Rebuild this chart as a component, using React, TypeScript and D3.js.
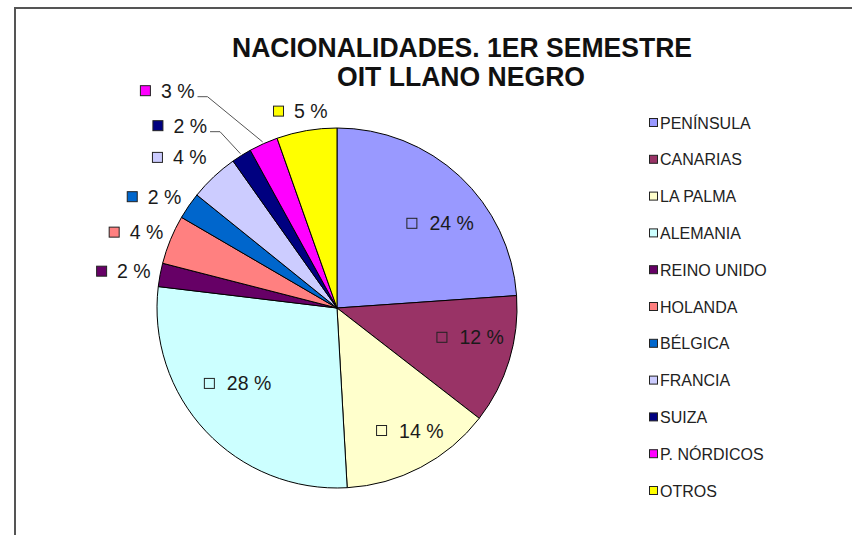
import React, { useMemo } from "react";
import * as d3 from "d3";

const categories = ["PENÍNSULA", "CANARIAS", "LA PALMA", "ALEMANIA", "REINO UNIDO", "HOLANDA", "BÉLGICA", "FRANCIA", "SUIZA", "P. NÓRDICOS", "OTROS"];
const values = [23.9, 11.6, 13.6, 27.8, 2.1, 4.4, 2.4, 4.4, 1.8, 2.6, 5.4];
const colors = ["#9999FF", "#993366", "#FFFFCC", "#CCFFFF", "#660066", "#FF8080", "#0066CC", "#CCCCFF", "#000080", "#FF00FF", "#FFFF00"];
const titleLines = ["NACIONALIDADES. 1ER SEMESTRE", "OIT LLANO NEGRO"];

const W = 852, H = 535;
const cx = 337, cy = 308, R = 180;
const LABEL_FONT = 19.5;
const KEY = 11;

// manual label nudges (like dragged labels in the original)
const nudges: Record<number, [number, number]> = {
  0: [11, 14], 1: [4, -10], 2: [10, 3], 3: [-1, -17],
  6: [-4, 2], 7: [-9, -5], 8: [-42, -13], 9: [-81, -35],
};
const leaderFor = new Set([8, 9]);

function measure(text: string, font: string): number {
  const c = document.createElement("canvas").getContext("2d");
  if (!c) return text.length * 10;
  c.font = font;
  return c.measureText(text).width;
}

export default function App() {
  const total = d3.sum(values);
  const arcs = useMemo(() => d3.pie<number>().sort(null).value((d) => d)(values), []);
  const arcGen = d3.arc<d3.PieArcDatum<number>>().innerRadius(0).outerRadius(R);
  const legendY = d3.scalePoint<string>().domain(categories).range([123, 491]);

  const labels = arcs.map((a, i) => {
    const pct = (a.value / total) * 100;
    const text = `${Math.round(pct)} %`;
    const tw = measure(text, `${LABEL_FONT}px 'Liberation Sans', Arial, sans-serif`);
    const mid = (a.startAngle + a.endAngle) / 2;
    const s = Math.sin(mid), c = Math.cos(mid);
    const inside = pct >= 10;
    const gap = inside ? 12 : 10;
    const w = KEY + gap + tw;
    let left: number, yc: number;
    if (inside) {
      const r = R * 0.75;
      left = cx + r * s - w / 2;
      yc = cy - r * c;
    } else {
      const r = R + 10;
      const px = cx + r * s, py = cy - r * c;
      left = px - (w * (1 - s)) / 2;
      yc = py - (LABEL_FONT / 2) * c;
    }
    const n = nudges[i];
    if (n) { left += n[0]; yc += n[1]; }
    let leader: string | null = null;
    if (leaderFor.has(i)) {
      const x0 = left + w + 3, y0 = yc + 6;
      const ex = cx + (R + 2) * s, ey = cy - (R + 2) * c;
      leader = d3.line()([[x0, y0], [x0 + 10, y0], [ex, ey]]) as string;
    }
    return { text, left, yc, gap, color: colors[i], leader };
  });

  return (
    <svg width={W} height={H} style={{ position: "fixed", left: 0, top: 0, background: "#fff" }}
      fontFamily="'Liberation Sans', Arial, sans-serif">
      <rect width={W} height={H} fill="#fff" />
      <path d="M15,535 V8 H852" fill="none" stroke="#555" strokeWidth={2} />
      <g fill="#111" fontWeight="bold" fontSize={27} textAnchor="middle">
        <text x={462} y={57} textLength={460} lengthAdjust="spacingAndGlyphs">{titleLines[0]}</text>
        <text x={461} y={86} textLength={248} lengthAdjust="spacingAndGlyphs">{titleLines[1]}</text>
      </g>
      <g transform={`translate(${cx},${cy})`}>
        {arcs.map((a, i) => (
          <path key={i} d={arcGen(a) as string} fill={colors[i]} stroke="#000" strokeWidth={1} strokeLinejoin="round" />
        ))}
      </g>
      {labels.map((l, i) => (
        <g key={i}>
          {l.leader && <path d={l.leader} fill="none" stroke="#555" strokeWidth={1} />}
          <rect x={l.left + 0.5} y={l.yc - KEY / 2 + 0.5} width={KEY - 1} height={KEY - 1} fill={l.color} stroke="#222" strokeWidth={1} />
          <text x={l.left + KEY + l.gap} y={l.yc + 7} fontSize={LABEL_FONT} fill="#1a1a1a">{l.text}</text>
        </g>
      ))}
      <g>
        {categories.map((c, i) => {
          const y = legendY(c) as number;
          return (
            <g key={c}>
              <rect x={649.5} y={y - 4.5} width={8} height={8} fill={colors[i]} stroke="#222" strokeWidth={1} />
              <text x={660} y={y + 5.5} fontSize={16} fill="#222">{c}</text>
            </g>
          );
        })}
      </g>
    </svg>
  );
}
